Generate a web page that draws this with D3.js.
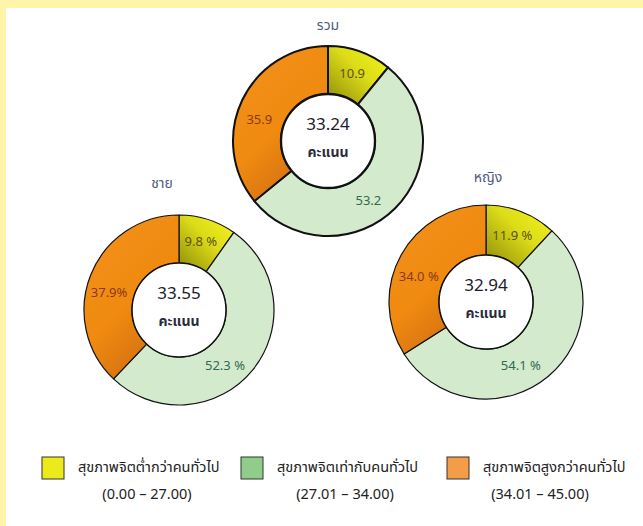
<!DOCTYPE html>
<html>
<head>
<meta charset="utf-8">
<script src="https://cdn.jsdelivr.net/npm/d3@7"></script>
<style>
  body { margin: 0; background: #fff; }
  svg { display: block; font-family: Tahoma, 'Noto Sans Thai', 'Noto Sans', 'DejaVu Sans', sans-serif; }
</style>
</head>
<body>
<div id="chart"></div>
<script>
// group names and mean scores
const groups = ['รวม', 'ชาย', 'หญิง'];
const scores = ['33.24', '33.55', '32.94'];
// percent of people in each level, per group
const lowPct = [10.9, 9.8, 11.9];
const equalPct = [53.2, 52.3, 54.1];
const highPct = [35.9, 37.9, 34.0];
// how the percent labels are written (low, equal, high) per group
const pctSuffix = [['', '', ''], [' %', ' %', '%'], [' %', ' %', ' %']];
const levels = ['low', 'equal', 'high'];
const legendLabels = ['สุขภาพจิตต่ำกว่าคนทั่วไป', 'สุขภาพจิตเท่ากับคนทั่วไป', 'สุขภาพจิตสูงกว่าคนทั่วไป'];
const legendRanges = ['(0.00 – 27.00)', '(27.01 – 34.00)', '(34.01 – 45.00)'];
const unitLabel = 'คะแนน';

const width = 643;
const height = 526;

const svg = d3
  .select('#chart')
  .append('svg')
  .attr('width', width)
  .attr('height', height);

// yellow frame on the top and left
svg.append('rect').attr('x', 0).attr('y', 0).attr('width', width).attr('height', 8).attr('fill', '#fff5a8');
svg.append('rect').attr('x', 0).attr('y', 0).attr('width', 6).attr('height', height).attr('fill', '#fff5a8');

const defs = svg.append('defs');
const lowGrad = defs.append('linearGradient').attr('id', 'lowGrad')
  .attr('x1', 0).attr('y1', 1).attr('x2', 1).attr('y2', 0);
lowGrad.append('stop').attr('offset', '0%').attr('stop-color', '#8c8a0a');
lowGrad.append('stop').attr('offset', '55%').attr('stop-color', '#dcdc18');
lowGrad.append('stop').attr('offset', '100%').attr('stop-color', '#f6f41e');
const highGrad = defs.append('linearGradient').attr('id', 'highGrad')
  .attr('x1', 0).attr('y1', 0).attr('x2', 0.6).attr('y2', 1);
highGrad.append('stop').attr('offset', '0%').attr('stop-color', '#f3921c');
highGrad.append('stop').attr('offset', '60%').attr('stop-color', '#f08a10');
highGrad.append('stop').attr('offset', '100%').attr('stop-color', '#d06e12');

const fill = d3.scaleOrdinal().domain(levels).range(['url(#lowGrad)', '#d4eacd', 'url(#highGrad)']);
const labelColour = d3.scaleOrdinal().domain(levels).range(['#5e5212', '#2e6a52', '#8a3a18']);
const legendColour = d3.scaleOrdinal().domain(levels).range(['#ebeb1c', '#8fcd8b', '#f49d48']);
const angleNudge = { low: 0, equal: 0.19, high: -0.14 };

const centres = [
  { x: 328, y: 141, r: 95, title: 25, titleX: 328, stroke: 2 },
  { x: 179, y: 310, r: 95, title: 183, titleX: 162, stroke: 1.2 },
  { x: 486, y: 302, r: 97, title: 177, titleX: 488, stroke: 1.2 }
];
const innerR = 47;
const labelR = 72;

const pie = d3.pie().sort(null).value(d => d.value);

groups.forEach((name, i) => {
  const c = centres[i];
  const arc = d3.arc().innerRadius(innerR).outerRadius(c.r);
  const data = [
    { level: 'low', value: lowPct[i], suffix: pctSuffix[i][0] },
    { level: 'equal', value: equalPct[i], suffix: pctSuffix[i][1] },
    { level: 'high', value: highPct[i], suffix: pctSuffix[i][2] }
  ];
  const g = svg.append('g').attr('transform', 'translate(' + c.x + ',' + c.y + ')');

  g.selectAll('path')
    .data(pie(data))
    .enter()
    .append('path')
    .attr('d', arc)
    .attr('fill', d => fill(d.data.level))
    .attr('stroke', '#111')
    .attr('stroke-width', c.stroke)
    .attr('stroke-linejoin', 'round');

  g.append('circle')
    .attr('r', innerR)
    .attr('fill', '#fff')
    .attr('stroke', '#111')
    .attr('stroke-width', c.stroke + 0.3);

  const mid = d => (d.startAngle + d.endAngle) / 2 + angleNudge[d.data.level];
  g.selectAll('text.pct')
    .data(pie(data))
    .enter()
    .append('text')
    .attr('class', 'pct')
    .attr('x', d => Math.sin(mid(d)) * labelR)
    .attr('y', d => -Math.cos(mid(d)) * labelR)
    .attr('text-anchor', 'middle')
    .attr('dy', '0.35em')
    .style('font-size', '13px')
    .attr('fill', d => labelColour(d.data.level))
    .text(d => d.data.value.toFixed(1) + d.data.suffix);

  g.append('text')
    .attr('y', -17)
    .attr('text-anchor', 'middle')
    .attr('dy', '0.35em')
    .style('font-size', '17px')
    .attr('fill', '#1c1c2c')
    .text(scores[i]);

  g.append('text')
    .attr('y', 11)
    .attr('text-anchor', 'middle')
    .attr('dy', '0.35em')
    .style('font-size', '14px')
    .style('font-weight', 'bold')
    .attr('fill', '#2a2a3a')
    .text(unitLabel);

  svg.append('text')
    .attr('x', c.titleX)
    .attr('y', c.title)
    .attr('text-anchor', 'middle')
    .attr('dy', '0.35em')
    .style('font-size', '14px')
    .attr('fill', '#4f5b7c')
    .text(name);
});

// legend
const legendX = [42, 241, 447];
const rangeX = [147, 345, 540];
const legend = svg.append('g');
levels.forEach((lv, i) => {
  legend.append('rect')
    .attr('x', legendX[i])
    .attr('y', 457)
    .attr('width', 22)
    .attr('height', 22)
    .attr('fill', legendColour(lv))
    .attr('stroke', '#333')
    .attr('stroke-width', 1);
  legend.append('text')
    .attr('x', legendX[i] + 36)
    .attr('y', 467)
    .attr('dy', '0.35em')
    .style('font-size', '14.5px')
    .attr('fill', '#222')
    .text(legendLabels[i]);
  legend.append('text')
    .attr('x', rangeX[i])
    .attr('y', 494)
    .attr('dy', '0.35em')
    .attr('text-anchor', 'middle')
    .style('font-size', '14.5px')
    .attr('fill', '#222')
    .text(legendRanges[i]);
});
</script>
</body>
</html>
